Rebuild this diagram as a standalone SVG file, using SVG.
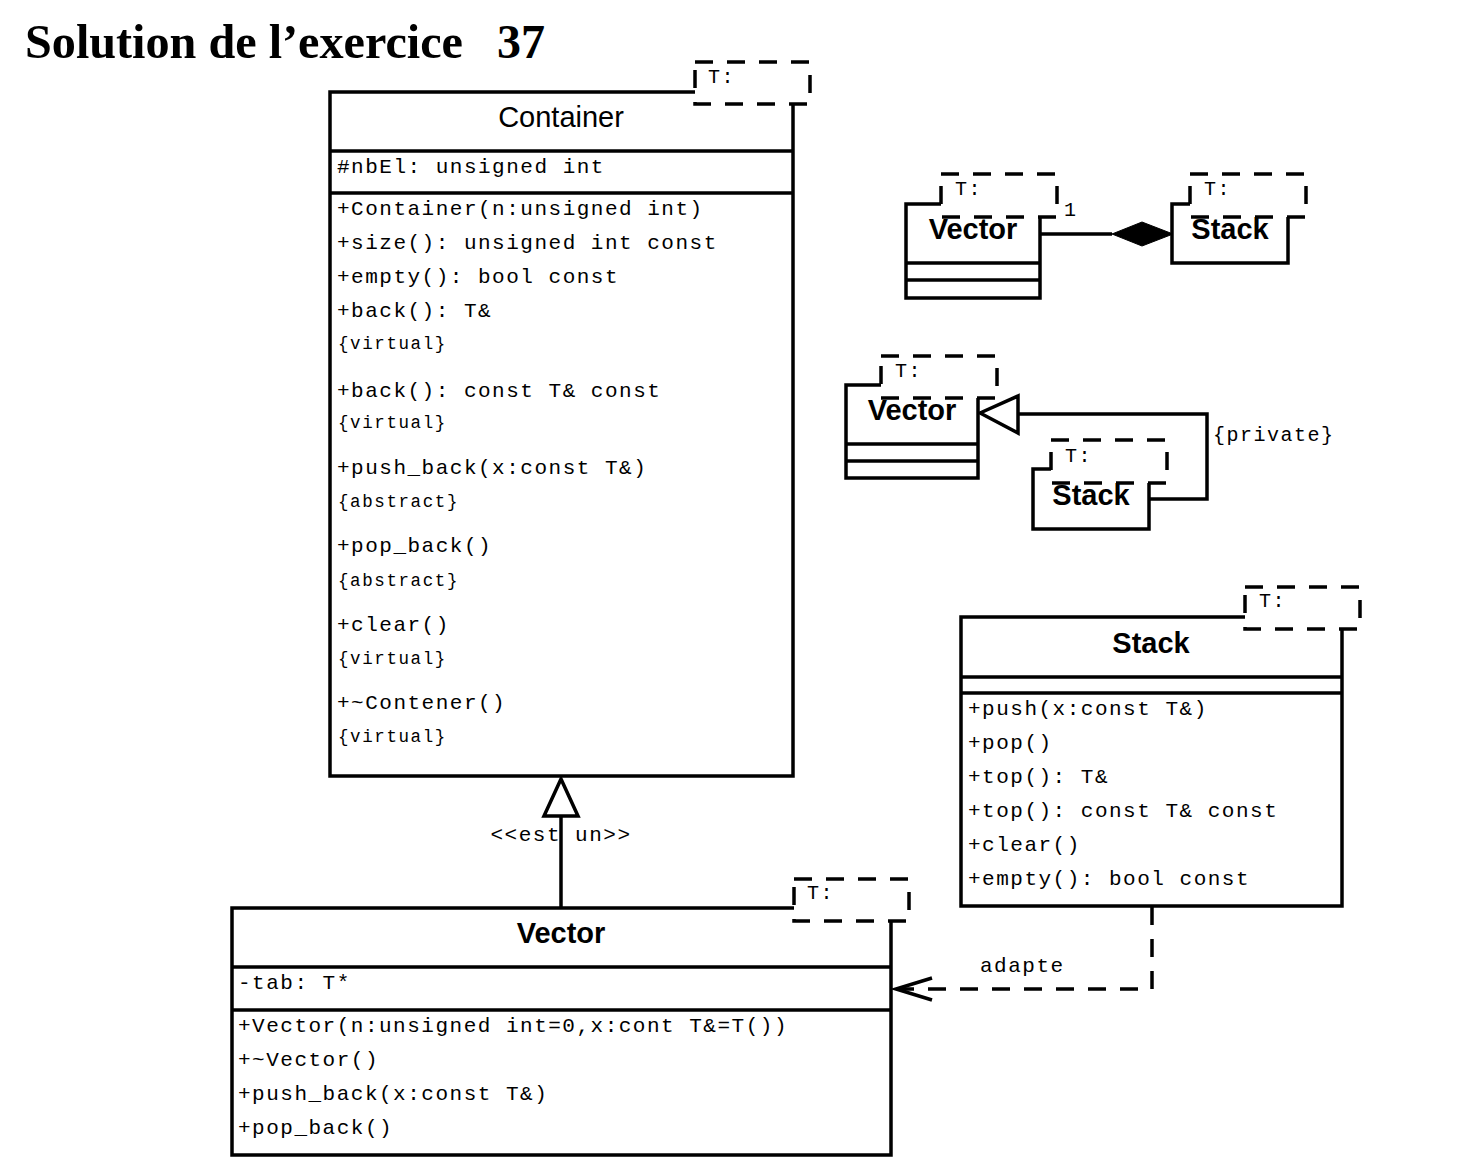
<svg xmlns="http://www.w3.org/2000/svg" width="1469" height="1175" viewBox="0 0 1469 1175">
<style>
.box{fill:#fff;stroke:#000;stroke-width:3.5}
.ln{fill:none;stroke:#000;stroke-width:3.5}
.tbox{fill:#fff;stroke:#000;stroke-width:3.5;stroke-dasharray:18 14}
.dash{fill:none;stroke:#000;stroke-width:3.5;stroke-dasharray:18 14}
.m{font-family:"Liberation Mono","Courier New",monospace;font-size:21px;letter-spacing:1.5px;fill:#000}
.s{font-family:"Liberation Mono","Courier New",monospace;font-size:17.5px;letter-spacing:1.6px;fill:#000}
.t{font-family:"Liberation Mono","Courier New",monospace;font-size:20px;letter-spacing:1.5px;fill:#000}
.hd{font-family:"Liberation Sans",Arial,sans-serif;font-size:29px;text-anchor:middle;fill:#000}
.b{font-weight:bold}
.ttl{font-family:"Liberation Serif","Times New Roman",serif;font-size:48px;font-weight:bold;fill:#000}
</style>
<rect width="1469" height="1175" fill="#fff"/>
<text class="ttl" x="25" y="58" textLength="438" lengthAdjust="spacingAndGlyphs">Solution de l’exercice</text>
<text class="ttl" x="497" y="58">37</text>

<g id="connectors">
  <line class="ln" x1="561" y1="908" x2="561" y2="816"/>
  <polygon class="box" points="561,779 544,816 578,816"/>
  <text class="m" x="561" y="841" text-anchor="middle">&lt;&lt;est un&gt;&gt;</text>
  <polyline class="dash" points="1152,907 1152,989 897,989"/>
  <polyline class="ln" points="932,978 896,989 932,1000"/>
  <text class="m" x="980" y="972">adapte</text>
  <line class="ln" x1="1040" y1="234" x2="1112" y2="234"/>
  <polygon points="1112,234 1142,222 1173,234 1142,246" fill="#000" stroke="#000" stroke-width="1"/>
  <text class="t" x="1064" y="216" font-size="18">1</text>
  <polyline class="ln" points="1150,499 1207,499 1207,414 1018,414"/>
  <polygon class="box" points="980,413 1018,396 1018,433"/>
  <text class="t" x="1213" y="441">{private}</text>
</g>

<g id="container">
  <rect class="box" x="330" y="92" width="463" height="684"/>
  <line class="ln" x1="330" y1="151" x2="793" y2="151"/>
  <line class="ln" x1="330" y1="193" x2="793" y2="193"/>
  <rect class="tbox" x="695" y="62" width="115" height="42"/>
  <text class="t" x="708" y="83">T:</text>
  <text class="hd" x="561" y="127">Container</text>
  <text class="m" x="337" y="173">#nbEl: unsigned int</text>
  <text class="m" x="337" y="215">+Container(n:unsigned int)</text>
  <text class="m" x="337" y="249">+size(): unsigned int const</text>
  <text class="m" x="337" y="283">+empty(): bool const</text>
  <text class="m" x="337" y="317">+back(): T&amp;</text>
  <text class="s" x="338" y="349">{virtual}</text>
  <text class="m" x="337" y="397">+back(): const T&amp; const</text>
  <text class="s" x="338" y="428">{virtual}</text>
  <text class="m" x="337" y="474">+push_back(x:const T&amp;)</text>
  <text class="s" x="338" y="507">{abstract}</text>
  <text class="m" x="337" y="552">+pop_back()</text>
  <text class="s" x="338" y="586">{abstract}</text>
  <text class="m" x="337" y="631">+clear()</text>
  <text class="s" x="338" y="664">{virtual}</text>
  <text class="m" x="337" y="709">+~Contener()</text>
  <text class="s" x="338" y="742">{virtual}</text>
</g>

<g id="vector">
  <rect class="box" x="232" y="908" width="659" height="247"/>
  <line class="ln" x1="232" y1="967" x2="891" y2="967"/>
  <line class="ln" x1="232" y1="1010" x2="891" y2="1010"/>
  <rect class="tbox" x="794" y="879" width="115" height="42"/>
  <text class="t" x="807" y="899">T:</text>
  <text class="hd b" x="561" y="943">Vector</text>
  <text class="m" x="238" y="989">-tab: T*</text>
  <text class="m" x="238" y="1032">+Vector(n:unsigned int=0,x:cont T&amp;=T())</text>
  <text class="m" x="238" y="1066">+~Vector()</text>
  <text class="m" x="238" y="1100">+push_back(x:const T&amp;)</text>
  <text class="m" x="238" y="1134">+pop_back()</text>
</g>

<g id="stack">
  <rect class="box" x="961" y="617" width="381" height="289"/>
  <line class="ln" x1="961" y1="677" x2="1342" y2="677"/>
  <line class="ln" x1="961" y1="693" x2="1342" y2="693"/>
  <rect class="tbox" x="1245" y="587" width="115" height="42"/>
  <text class="t" x="1259" y="607">T:</text>
  <text class="hd b" x="1151" y="653">Stack</text>
  <text class="m" x="968" y="715">+push(x:const T&amp;)</text>
  <text class="m" x="968" y="749">+pop()</text>
  <text class="m" x="968" y="783">+top(): T&amp;</text>
  <text class="m" x="968" y="817">+top(): const T&amp; const</text>
  <text class="m" x="968" y="851">+clear()</text>
  <text class="m" x="968" y="885">+empty(): bool const</text>
</g>

<g id="vector-small-1">
  <rect class="box" x="906" y="204" width="134" height="94"/>
  <line class="ln" x1="906" y1="263" x2="1040" y2="263"/>
  <line class="ln" x1="906" y1="280" x2="1040" y2="280"/>
  <rect class="tbox" x="941" y="174" width="116" height="43"/>
  <text class="t" x="955" y="195">T:</text>
  <text class="hd b" x="973" y="239">Vector</text>
</g>

<g id="stack-small-1">
  <rect class="box" x="1172" y="204" width="116" height="59"/>
  <rect class="tbox" x="1190" y="174" width="116" height="43"/>
  <text class="t" x="1204" y="195">T:</text>
  <text class="hd b" x="1230" y="239">Stack</text>
</g>

<g id="vector-small-2">
  <rect class="box" x="846" y="385" width="132" height="93"/>
  <line class="ln" x1="846" y1="444" x2="978" y2="444"/>
  <line class="ln" x1="846" y1="461" x2="978" y2="461"/>
  <rect class="tbox" x="881" y="356" width="116" height="42"/>
  <text class="t" x="895" y="377">T:</text>
  <text class="hd b" x="912" y="420">Vector</text>
</g>

<g id="stack-small-2">
  <rect class="box" x="1033" y="469" width="116" height="60"/>
  <rect class="tbox" x="1051" y="440" width="116" height="43"/>
  <text class="t" x="1065" y="462">T:</text>
  <text class="hd b" x="1091" y="505">Stack</text>
</g>
</svg>
